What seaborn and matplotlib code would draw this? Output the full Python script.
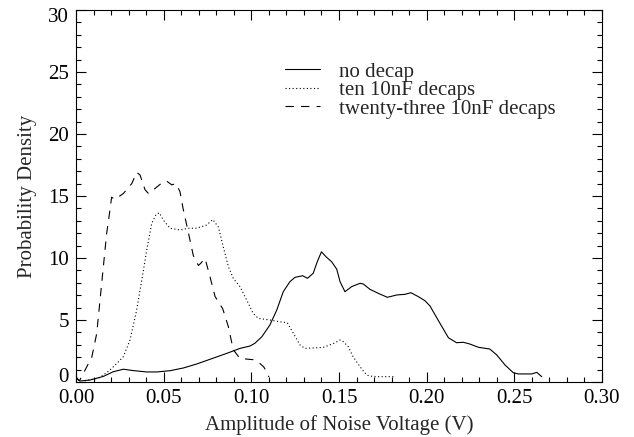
import numpy as np
import pandas as pd
import matplotlib
matplotlib.use("Agg")
import matplotlib.pyplot as plt
import matplotlib.transforms as mtransforms
import seaborn as sns

# no decap (solid)
x_none = [0.0, 0.0023, 0.008, 0.0156, 0.0213, 0.027, 0.0327, 0.0403, 0.046, 0.0536,
          0.0612, 0.0688, 0.0764, 0.086, 0.0935, 0.0992, 0.102, 0.106, 0.1106, 0.1145,
          0.1182, 0.122, 0.1249, 0.1293, 0.132, 0.1353, 0.1376, 0.140, 0.1426, 0.1458,
          0.1487, 0.1506, 0.1534, 0.1572, 0.162, 0.1639, 0.1677, 0.1724, 0.1776, 0.183,
          0.1876, 0.191, 0.1953, 0.199, 0.2019, 0.2076, 0.2124, 0.217, 0.221, 0.2247,
          0.2295, 0.236, 0.24, 0.2447, 0.2494, 0.2523, 0.26, 0.2628, 0.2656]
y_none = [0.3, 0.08, 0.16, 0.45, 0.83, 1.03, 0.92, 0.81, 0.81, 0.91,
          1.13, 1.45, 1.83, 2.31, 2.71, 2.9, 3.12, 3.65, 4.6, 5.8,
          7.28, 8.09, 8.44, 8.57, 8.36, 8.77, 9.7, 10.5, 10.1, 9.7,
          9.1, 8.09, 7.28, 7.69, 7.96, 7.9, 7.47, 7.15, 6.83, 7.02,
          7.07, 7.2, 6.88, 6.56, 6.13, 4.73, 3.57, 3.17, 3.2, 3.06,
          2.8, 2.66, 2.18, 1.37, 0.75, 0.65, 0.65, 0.78, 0.43]

# ten 10nF decaps (dotted)
x_ten = [0.005, 0.0127, 0.0156, 0.0194, 0.024, 0.027, 0.0308, 0.0346, 0.0375, 0.0403,
         0.0432, 0.0456, 0.0475, 0.0498, 0.0536, 0.0593, 0.064, 0.0688, 0.0745, 0.078,
         0.0812, 0.084, 0.0869, 0.0897, 0.0935, 0.0974, 0.101, 0.104, 0.1106, 0.116,
         0.1205, 0.124, 0.1278, 0.1306, 0.141, 0.1468, 0.1506, 0.1525, 0.1553, 0.158,
         0.162, 0.1658, 0.1696, 0.181]
y_ten = [0.1, 0.3, 0.56, 0.97, 1.6, 2.04, 3.39, 5.8, 8.2, 10.6,
         12.8, 13.5, 13.65, 13.06, 12.4, 12.26, 12.4, 12.4, 12.66, 13.1,
         12.5, 10.9, 9.3, 8.36, 7.69, 6.6, 5.54, 5.13, 5.0, 4.86,
         4.78, 3.92, 2.98, 2.71, 2.79, 3.1, 3.39, 3.25, 2.85, 2.04,
         1.23, 0.56, 0.43, 0.43]

# twenty-three 10nF decaps (dashed)
x_23 = [0.0, 0.002, 0.0042, 0.009, 0.0118, 0.0137, 0.0156, 0.0175, 0.0194, 0.0203,
        0.0222, 0.027, 0.0318, 0.0346, 0.0365, 0.0394, 0.0413, 0.045, 0.0498, 0.0517,
        0.0546, 0.057, 0.0593, 0.0612, 0.064, 0.0669, 0.0698, 0.071, 0.0736, 0.0764,
        0.0793, 0.0837, 0.0869, 0.0897, 0.0935, 0.101, 0.104, 0.107, 0.1088, 0.110]
y_23 = [0.4, 0.1, 0.7, 2.0, 3.9, 6.6, 9.3, 12.0, 13.9, 14.9,
        14.73, 15.2, 16.0, 16.9, 16.7, 15.5, 15.2, 15.6, 16.15, 16.2,
        15.9, 16.0, 15.35, 13.9, 12.1, 10.2, 9.4, 9.55, 9.97, 8.5,
        6.9, 5.9, 4.46, 2.6, 1.9, 1.8, 1.6, 1.23, 0.83, 0.4]

labels = ["no decap", "ten 10nF decaps", "twenty-three 10nF decaps"]
x_ticks = [0.00, 0.05, 0.10, 0.15, 0.20, 0.25, 0.30]
y_ticks = [0, 5, 10, 15, 20, 25, 30]

sns.set_theme(style="ticks")
plt.rcParams["font.family"] = ["Liberation Serif", "DejaVu Serif"]
plt.rcParams["axes.linewidth"] = 0.8

fig = plt.figure(figsize=(6.34, 4.37), dpi=100)
ax = fig.add_axes([76 / 634, 1 - 382 / 437, 526 / 634, 372 / 437])

styles = ["-", (0, (1.0, 2.2)), (0, (7.5, 6.5))]
series = [(x_none, y_none), (x_ten, y_ten), (x_23, y_23)]
for (xs, ys), lab, ls in zip(series, labels, styles):
    df = pd.DataFrame({"x": xs, "y": ys})
    sns.lineplot(data=df, x="x", y="y", ax=ax, color="black", lw=0.8,
                 linestyle=ls, label=lab, estimator=None, sort=False)

ax.set_xlim(0, 0.30)
ax.set_ylim(0, 30)
ax.set_xticks(x_ticks)
ax.set_xticklabels([f"{v:.2f}" for v in x_ticks])
ax.set_xticks(np.arange(0, 0.3001, 0.01), minor=True)
ax.set_yticks(y_ticks)
ax.set_yticklabels([str(v) for v in y_ticks])
ax.set_yticks(np.arange(0, 30.1, 1), minor=True)

ax.tick_params(which="both", direction="in", top=True, right=True,
               width=0.8, colors="black", labelsize=15)
ax.tick_params(which="major", length=7.2)
ax.tick_params(which="minor", length=3.6)
ax.tick_params(axis="x", pad=5)
ax.tick_params(axis="y", pad=5)
for s in ax.spines.values():
    s.set_color("black")
    s.set_visible(True)

# nudge end labels inside the axis range
ylabs = ax.get_yticklabels()
ylabs[0].set_transform(ylabs[0].get_transform() +
                       mtransforms.ScaledTranslation(0, 7 / 100, fig.dpi_scale_trans))
ylabs[-1].set_transform(ylabs[-1].get_transform() +
                        mtransforms.ScaledTranslation(0, -5 / 100, fig.dpi_scale_trans))

ax.set_xlabel("Amplitude of Noise Voltage (V)", fontsize=15, labelpad=5)
ax.set_ylabel("Probability Density", fontsize=15, labelpad=8)

ax.legend(loc="upper left", bbox_to_anchor=(285 / 634, 1 - 62 / 437),
          bbox_transform=fig.transFigure, frameon=False, fontsize=15,
          handlelength=1.7, handletextpad=0.9, labelspacing=-0.05,
          borderpad=0, borderaxespad=0)

fig.savefig("out.png", dpi=100)
